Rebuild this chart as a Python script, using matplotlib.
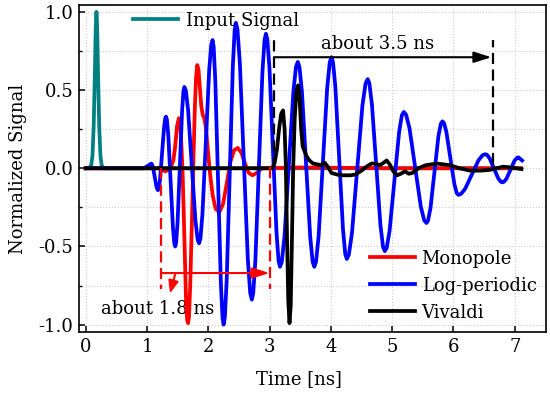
# Time-domain responses of the three antennas, normalized

import matplotlib
matplotlib.use('Agg')
import matplotlib.pyplot as plt
from matplotlib.lines import Line2D

plt.rcParams['font.family'] = 'DejaVu Serif'
plt.rcParams['font.size'] = 13
plt.rcParams['axes.unicode_minus'] = False

# Input pulse
t_input = [0.0, 0.06, 0.09, 0.11, 0.13, 0.15, 0.16, 0.17, 0.175, 0.18, 0.19, 0.20,
           0.22, 0.24, 0.26, 0.29, 7.1]
v_input = [0.0, 0.0, 0.02, 0.08, 0.27, 0.62, 0.84, 0.97, 1.0, 0.97, 0.84, 0.62,
           0.27, 0.08, 0.02, 0.0, 0.0]

# Monopole
t_mono = [0.0, 1.20, 1.30, 1.38, 1.43, 1.46, 1.49, 1.52, 1.545, 1.565, 1.585, 1.61,
          1.635, 1.655, 1.67, 1.685, 1.705, 1.73, 1.755, 1.78, 1.80, 1.82, 1.84,
          1.86, 1.885, 1.91, 1.935, 1.96, 1.99, 2.03, 2.07, 2.12, 2.18, 2.24, 2.30,
          2.36, 2.42, 2.48, 2.54, 2.60, 2.66, 2.72, 2.79, 2.87, 3.5, 5.0, 7.1]
v_mono = [0.0, 0.0, -0.02, 0.0, 0.05, 0.14, 0.27, 0.32, 0.27, 0.12, -0.08, -0.45,
          -0.82, -0.97, -0.99, -0.95, -0.75, -0.38, 0.02, 0.38, 0.58, 0.66, 0.63,
          0.53, 0.40, 0.34, 0.32, 0.26, 0.13, -0.04, -0.17, -0.26, -0.28, -0.23, -0.10,
          0.04, 0.115, 0.13, 0.10, 0.03, -0.03, -0.045, -0.03, 0.0, 0.005, 0.0, 0.0]

# Log-periodic
t_logp = [0.0, 0.95, 1.01, 1.07,
          1.081, 1.098, 1.125, 1.153, 1.169, 1.18,
          1.193, 1.213, 1.245, 1.278, 1.297, 1.31,
          1.325, 1.348, 1.385, 1.423, 1.445, 1.46,
          1.475, 1.498, 1.535, 1.573, 1.595, 1.61,
          1.634, 1.67, 1.73, 1.79, 1.826, 1.85,
          1.872, 1.905, 1.96, 2.015, 2.048, 2.07,
          2.088, 2.115, 2.16, 2.205, 2.232, 2.25,
          2.27, 2.30, 2.35, 2.40, 2.43, 2.45,
          2.476, 2.515, 2.58, 2.645, 2.684, 2.71,
          2.733, 2.768, 2.825, 2.883, 2.917, 2.94,
          2.963, 2.998, 3.055, 3.113, 3.147, 3.17,
          3.199, 3.243, 3.315, 3.388, 3.431, 3.46,
          3.487, 3.528, 3.595, 3.663, 3.703, 3.73,
          3.758, 3.80, 3.87, 3.94, 3.982, 4.01,
          4.035, 4.073, 4.135, 4.198, 4.235, 4.26,
          4.294, 4.345, 4.43, 4.515, 4.566, 4.60,
          4.628, 4.67, 4.74, 4.81, 4.852, 4.88,
          4.911, 4.958, 5.035, 5.113, 5.159, 5.19,
          5.227, 5.283, 5.375, 5.468, 5.523, 5.56,
          5.586, 5.625, 5.69, 5.755, 5.794, 5.82,
          5.846, 5.885, 5.95, 6.015, 6.054, 6.08,
          6.124, 6.19, 6.30, 6.41, 6.476, 6.52,
          6.548, 6.59, 6.66, 6.73, 6.772, 6.80,
          6.826, 6.865, 6.93, 6.995, 7.034, 7.06,
          7.12]
v_logp = [0.0, 0.0, 0.015, 0.03,
          0.026, 0.005, -0.055, -0.115, -0.136, -0.14,
          -0.129, -0.071, 0.095, 0.261, 0.319, 0.33,
          0.310, 0.209, -0.085, -0.379, -0.480, -0.50,
          -0.476, -0.351, 0.01, 0.371, 0.496, 0.52,
          0.496, 0.374, 0.02, -0.334, -0.456, -0.48,
          -0.449, -0.290, 0.17, 0.630, 0.789, 0.82,
          0.776, 0.554, -0.09, -0.734, -0.956, -1.0,
          -0.954, -0.718, -0.035, 0.648, 0.884, 0.93,
          0.888, 0.672, 0.045, -0.582, -0.798, -0.84,
          -0.799, -0.592, 0.01, 0.612, 0.819, 0.86,
          0.824, 0.642, 0.115, -0.412, -0.594, -0.63,
          -0.599, -0.439, 0.025, 0.489, 0.649, 0.68,
          0.649, 0.489, 0.025, -0.439, -0.599, -0.63,
          -0.598, -0.434, 0.04, 0.514, 0.678, 0.71,
          0.679, 0.522, 0.065, -0.392, -0.549, -0.58,
          -0.552, -0.412, -0.005, 0.402, 0.542, 0.57,
          0.544, 0.409, 0.02, -0.369, -0.504, -0.53,
          -0.509, -0.40, -0.085, 0.23, 0.339, 0.36,
          0.343, 0.256, 0.005, -0.246, -0.333, -0.35,
          -0.334, -0.255, -0.025, 0.205, 0.284, 0.30,
          0.289, 0.231, 0.065, -0.101, -0.159, -0.17,
          -0.164, -0.132, -0.04, 0.052, 0.084, 0.09,
          0.086, 0.064, 0.0, -0.064, -0.086, -0.09,
          -0.086, -0.067, -0.01, 0.047, 0.066, 0.07,
          0.05]

# Vivaldi
t_viv = [0.0, 3.04, 3.08, 3.12, 3.16, 3.19, 3.22, 3.245, 3.265, 3.285, 3.305, 3.325,
         3.345, 3.365, 3.385, 3.41, 3.44, 3.465, 3.49, 3.515, 3.54, 3.57, 3.60, 3.65,
         3.71, 3.78, 3.84, 3.90, 3.95, 4.01, 4.10, 4.20, 4.32, 4.40, 4.50, 4.58, 4.66,
         4.72, 4.80, 4.86, 4.91, 4.96, 5.02, 5.08, 5.14, 5.21, 5.27, 5.33, 5.43, 5.55,
         5.73, 5.94, 6.10, 6.27, 6.45, 6.60, 6.81, 6.95, 7.11]
v_viv = [0.0, 0.0, 0.03, 0.12, 0.27, 0.35, 0.37, 0.25, 0.02, -0.45, -0.85, -0.99,
         -0.88, -0.45, 0.0, 0.32, 0.50, 0.53, 0.45, 0.25, 0.14, 0.11, 0.08, 0.05,
         0.03, 0.025, 0.02, 0.035, 0.01, -0.03, -0.04, -0.045, -0.045, -0.04, -0.015, 0.01, 0.03,
         0.03, 0.02, 0.035, 0.05, 0.025, -0.02, -0.045, -0.035, -0.02, -0.035, -0.03, 0.0, 0.02,
         0.03, 0.02, 0.0, -0.015, -0.015, -0.01, 0.01, 0.005, -0.005]

lw = 2.7
c_in, c_mono, c_logp, c_viv = '#008080', '#FF0000', '#0000FF', '#000000'

fig = plt.figure(figsize=(5.5, 3.93), dpi=100)
ax = fig.add_axes([0.1436, 0.1552, 0.8491, 0.8321])

ax.plot(t_input, v_input, color=c_in, lw=lw, zorder=2)
ax.plot(t_mono, v_mono, color=c_mono, lw=lw, zorder=2.1)
ax.plot(t_logp, v_logp, color=c_logp, lw=lw, zorder=2.2)
ax.plot(t_viv, v_viv, color=c_viv, lw=lw, zorder=2.3)

ax.set_xlim(-0.11, 7.51)
ax.set_ylim(-1.047, 1.044)
ax.set_xticks(range(8))
ax.set_yticks([-1.0, -0.5, 0.0, 0.5, 1.0])
ax.set_yticklabels(['-1.0', '-0.5', '0.0', '0.5', '1.0'])
ax.set_yticks([-0.75, -0.25, 0.25, 0.75], minor=True)
ax.grid(True, which='major', axis='x', color='#cccccc', ls=':', lw=0.8)
ax.grid(True, which='both', axis='y', color='#cccccc', ls=':', lw=0.8)
ax.set_axisbelow(True)
ax.tick_params(which='major', direction='in', length=4.5, width=1.1, pad=4)
ax.tick_params(which='minor', direction='in', length=2.5, width=1.0)
for sp in ax.spines.values():
    sp.set_linewidth(1.2)

ax.set_xlabel('Time [ns]')
ax.set_ylabel('Normalized Signal')
ax.xaxis.set_label_coords(0.471, -0.115)
ax.yaxis.set_label_coords(-0.112, 0.5)

# 3.5 ns annotation
ax.plot([3.07, 3.07], [0.0, 0.82], color='k', lw=1.6, ls=(0, (5, 2.5)), zorder=5)
ax.plot([6.64, 6.64], [0.03, 0.82], color='k', lw=1.6, ls=(0, (5, 2.5)), zorder=5)
ax.annotate('', xy=(6.62, 0.71), xytext=(3.07, 0.71),
            arrowprops=dict(arrowstyle='-|>,head_length=0.7,head_width=0.22', color='k',
                            lw=1.5, mutation_scale=15, shrinkA=0, shrinkB=0), zorder=5)
ax.text(4.77, 0.761, 'about 3.5 ns', ha='center', va='baseline', zorder=1)

# 1.8 ns annotation
ax.plot([1.23, 1.23], [0.0, -0.77], color=c_mono, lw=1.6, ls=(0, (5, 2.5)), zorder=5)
ax.plot([3.0, 3.0], [0.01, -0.77], color=c_mono, lw=1.6, ls=(0, (5, 2.5)), zorder=5)
ax.annotate('', xy=(3.0, -0.67), xytext=(1.23, -0.67),
            arrowprops=dict(arrowstyle='-|>,head_length=0.7,head_width=0.22', color=c_mono,
                            lw=1.5, mutation_scale=15, shrinkA=0, shrinkB=0), zorder=5)
ax.annotate('', xy=(1.375, -0.80), xytext=(1.457, -0.682),
            arrowprops=dict(arrowstyle='-|>,head_length=0.5,head_width=0.2', color=c_mono,
                            lw=1.5, mutation_scale=15, shrinkA=0, shrinkB=0), zorder=5)
ax.text(1.166, -0.932, 'about 1.8 ns', ha='center', va='baseline', zorder=1)

# legends
h_in = [Line2D([], [], color=c_in, lw=lw)]
leg1 = ax.legend(h_in, ['Input Signal'], loc='center left', bbox_to_anchor=(0.777, 0.944),
                 bbox_transform=ax.transData, frameon=False, borderpad=0, borderaxespad=0,
                 handlelength=2.5, handletextpad=0.4, fontsize=13)
ax.add_artist(leg1)

h_ant = [Line2D([], [], color=c, lw=lw) for c in (c_mono, c_logp, c_viv)]
ax.legend(h_ant, ['Monopole', 'Log-periodic', 'Vivaldi'], loc='center left',
          bbox_to_anchor=(4.64, -0.75), bbox_transform=ax.transData, frameon=False,
          borderpad=0, borderaxespad=0, handlelength=2.5, handletextpad=0.35,
          labelspacing=0.5, fontsize=13)

fig.savefig('out.png', dpi=100)
plt.close('all')
